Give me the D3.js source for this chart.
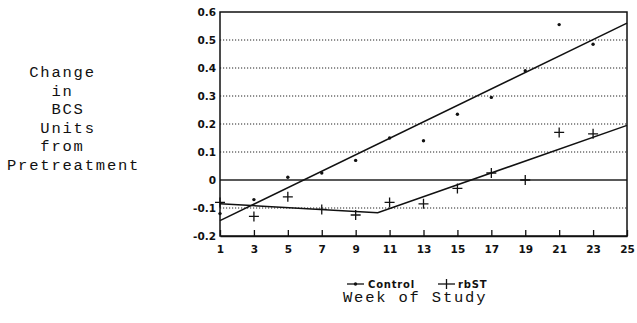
<!DOCTYPE html>
<html>
<head>
<meta charset="utf-8">
<script src="https://cdn.jsdelivr.net/npm/d3@7/dist/d3.min.js"></script>
<style>
  body { margin: 0; background: #fff; }
  svg { display: block; }
  .tick text { font-family: "DejaVu Sans", sans-serif; font-weight: bold; font-size: 10.5px; fill: #111; }
  .mono { font-family: "Liberation Mono", "DejaVu Sans Mono", monospace; font-size: 15.5px; letter-spacing: 1.8px; fill: #111; white-space: pre; }
  .leg { font-family: "DejaVu Sans", sans-serif; font-weight: bold; font-size: 10px; letter-spacing: 0.8px; fill: #111; }
</style>
</head>
<body>
<div id="chart"></div>
<script>
// values
const weeks = [1, 3, 5, 7, 9, 11, 13, 15, 17, 19, 21, 23];
const control = [-0.12, -0.07, 0.01, 0.025, 0.07, 0.15, 0.14, 0.235, 0.295, 0.39, 0.555, 0.485];
const rbst = [-0.08, -0.13, -0.06, -0.105, -0.125, -0.08, -0.085, -0.03, 0.025, 0, 0.17, 0.165];
// fitted lines (week, value)
const controlFit = [[1, -0.145], [25, 0.56]];
const rbstFit = [[1, -0.085], [10.3, -0.117], [25, 0.195]];

const xTicks = [1, 3, 5, 7, 9, 11, 13, 15, 17, 19, 21, 23, 25];
const yTicks = [-0.2, -0.1, 0, 0.1, 0.2, 0.3, 0.4, 0.5, 0.6];
const yTitle = ["  Change", "    in", "    BCS", "   Units", "   from", "Pretreatment"];

const width = 637, height = 323;
const margin = {left: 220, right: 10, top: 12, bottom: 87};

const svg = d3.select('#chart').append('svg')
    .attr('width', width)
    .attr('height', height);

const x = d3.scaleLinear().domain([1, 25]).range([margin.left, width - margin.right]);
const y = d3.scaleLinear().domain([-0.2, 0.6]).range([height - margin.bottom, margin.top]);

// gridlines
svg.append('g')
    .selectAll('line')
    .data(yTicks.filter(d => d > -0.2 && d < 0.6))
    .join('line')
    .attr('x1', x(1))
    .attr('x2', x(25))
    .attr('y1', d => y(d))
    .attr('y2', d => y(d))
    .attr('stroke', '#222')
    .attr('stroke-width', d => d === 0 ? 1.3 : 1)
    .attr('stroke-dasharray', d => d === 0 ? null : '1.2,1.8');

// frame
svg.append('rect')
    .attr('x', x(1))
    .attr('y', y(0.6))
    .attr('width', x(25) - x(1))
    .attr('height', y(-0.2) - y(0.6))
    .attr('fill', 'none')
    .attr('stroke', '#111')
    .attr('stroke-width', 1.5);

const xAxis = svg.append('g')
    .attr('transform', `translate(0,${y(-0.2)})`)
    .call(d3.axisBottom(x).tickValues(xTicks).tickSizeInner(-6).tickSizeOuter(0).tickPadding(10).tickFormat(d3.format('d')));
xAxis.select('.domain').attr('stroke', '#111').attr('stroke-width', 1.5);
xAxis.selectAll('.tick line').attr('stroke', '#111').attr('stroke-width', 1.3);

const yAxis = svg.append('g')
    .attr('transform', `translate(${x(1)},0)`)
    .call(d3.axisLeft(y).tickValues(yTicks).tickSize(0).tickPadding(4)
        .tickFormat(d => d === 0 ? '0' : d3.format('.1f')(d).replace('−', '-')));
yAxis.select('.domain').remove();

// fitted lines
const line = d3.line().x(d => x(d[0])).y(d => y(d[1]));
[controlFit, rbstFit].forEach(fit => {
    svg.append('path')
        .attr('d', line(fit))
        .attr('fill', 'none')
        .attr('stroke', '#111')
        .attr('stroke-width', 1.5);
});

// control points
svg.append('g')
    .selectAll('circle')
    .data(weeks.map((w, i) => [w, control[i]]))
    .join('circle')
    .attr('cx', d => x(d[0]))
    .attr('cy', d => y(d[1]))
    .attr('r', 1.7)
    .attr('fill', '#111');

// rbST points
svg.append('g')
    .selectAll('path')
    .data(weeks.map((w, i) => [w, rbst[i]]))
    .join('path')
    .attr('transform', d => `translate(${x(d[0])},${y(d[1])})`)
    .attr('d', 'M-5,0H5M0,-5V5')
    .attr('stroke', '#111')
    .attr('stroke-width', 1.3);

// legend
const legend = svg.append('g').attr('transform', 'translate(0,284)');
legend.append('line').attr('x1', 347).attr('x2', 364).attr('stroke', '#111').attr('stroke-width', 1.3);
legend.append('circle').attr('cx', 355.5).attr('r', 1.7).attr('fill', '#111');
legend.append('text').attr('class', 'leg').attr('x', 368).attr('y', 3.5).text('Control');
legend.append('line').attr('x1', 438).attr('x2', 455).attr('stroke', '#111').attr('stroke-width', 1.3);
legend.append('path').attr('d', 'M446.5,-5V5').attr('stroke', '#111').attr('stroke-width', 1.3);
legend.append('text').attr('class', 'leg').attr('x', 458).attr('y', 3.5).text('rbST');

// axis titles
svg.append('text').attr('class', 'mono').attr('x', 343).attr('y', 302).text('Week of Study');
svg.append('g')
    .selectAll('text')
    .data(yTitle)
    .join('text')
    .attr('class', 'mono')
    .attr('x', 7)
    .attr('y', (d, i) => 77 + i * 18.6)
    .text(d => d);
</script>
</body>
</html>
